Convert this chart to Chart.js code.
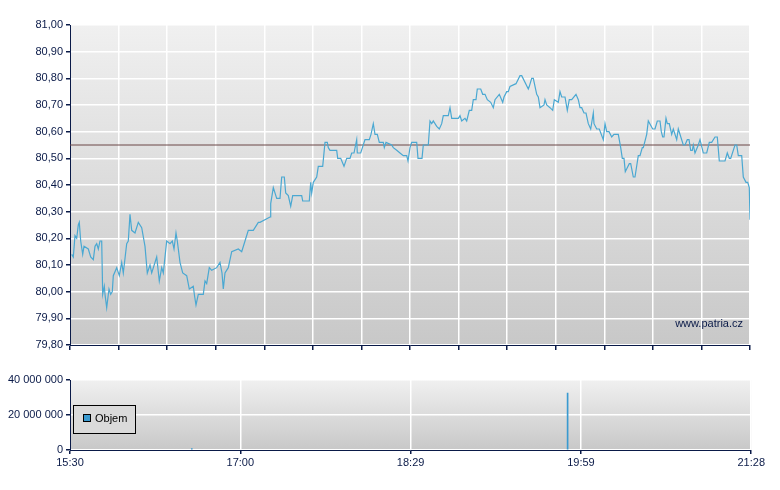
<!DOCTYPE html>
<html><head><meta charset="utf-8">
<script src="https://cdn.jsdelivr.net/npm/chart.js@4/dist/chart.umd.min.js"></script>
<style>
body{margin:0;background:#fff;width:780px;height:490px;overflow:hidden}
</style></head><body>
<div style="position:absolute;left:0;top:0;width:760px;height:360px"><canvas id="c1"></canvas></div>
<div style="position:absolute;left:0;top:370px;width:767px;height:110px"><canvas id="c2"></canvas></div>
<script>
const xs = [71.7,73.3,75,76.7,78.3,79.3,80.7,82.7,84,88.3,90.7,93.3,95,96.7,98.3,100,101.7,102.7,104.3,105,106.7,109,110.7,112.3,113.3,116.7,119.3,121.7,123.3,126.7,128.3,130,131.7,135,138.3,141.7,145,147.3,150,151.7,156.7,159.3,161.7,163.3,166.7,170,172.3,174,176,177.3,180,182.7,186.7,189.3,193.3,194.7,196,198.3,203.3,205,206.7,209.3,211.7,216.7,220,222,223.3,225,228.3,231.7,238.3,241.7,245,248.3,253.3,258.3,260,
270,270.7,273.3,276.7,280,281.7,284.3,285.7,288.3,290.7,292.7,295,301.7,302.7,309.3,310.7,311.7,313.3,316.7,318.3,322.7,325,327.3,328.3,330,336.7,337.7,340.7,344,346.7,350,351.7,354,356.7,357.3,360.7,365,369.3,371,373.3,375,377.3,379.3,383.3,384.3,386,391.7,393.3,396.7,400,403.3,406.7,408,410,411.7,416.7,418,422,423.3,428.3,430,431.7,433.3,436.7,439.3,441.7,443.3,448.3,450,451.7,458.3,460,461.7,465,466.7,469.3,471.7,473.3,476,477.3,480.7,482.7,485,487.3,490.7,493.3,495,499.3,
502.7,504,506.7,508.3,510,516,516.7,520,521.7,528.3,529.3,531.7,533.3,536.7,538.3,540,544,545,546.7,550,552.7,554.3,558.3,560,561.7,565,567.3,569.3,571.7,576,578.3,580,581.7,584,586,588.3,590.7,593.3,594,596.7,599.3,603.3,605,606.7,609,611.7,614,618.3,620.7,622.3,624,625.3,629.3,630.7,633.3,635,638.3,640,642.3,643.3,646.7,648.3,652.7,655,657.3,660,661.3,662.7,664,666,667.3,669.3,671.7,673.3,676.7,678.3,683.3,685,687.3,689,690.7,692.3,693.3,695,698.3,700,703.3,706.7,709.3,711.7,715,717.3,719.3,725,727.3,729.3,730.7,735,736.7,738.3,741.7,743.3,746,747.7,749.3,750];
const prices = [80.14,80.13,80.21,80.20,80.25,80.26,80.19,80.14,80.17,80.16,80.13,80.12,80.17,80.18,80.16,80.19,80.19,79.99,80.02,79.99,79.94,80.01,79.99,80.00,80.06,80.09,80.06,80.11,80.07,80.18,80.19,80.29,80.23,80.22,80.26,80.24,80.17,80.07,80.10,80.07,80.13,80.04,80.09,80.07,80.19,80.18,80.19,80.16,80.22,80.19,80.11,80.07,80.06,80.01,80.02,79.98,79.95,79.99,79.99,80.04,80.03,80.09,80.08,80.09,80.11,80.07,80.01,80.07,80.09,80.15,80.16,80.15,80.19,80.23,80.23,80.26,80.26,
80.28,80.33,80.39,80.35,80.35,80.43,80.43,80.37,80.36,80.32,80.36,80.36,80.36,80.34,80.34,80.41,80.37,80.41,80.43,80.47,80.47,80.56,80.56,80.54,80.53,80.53,80.50,80.50,80.47,80.50,80.50,80.52,80.52,80.57,80.52,80.52,80.57,80.57,80.59,80.63,80.59,80.59,80.56,80.56,80.54,80.56,80.55,80.54,80.53,80.52,80.51,80.51,80.49,80.54,80.56,80.56,80.50,80.50,80.55,80.55,80.64,80.63,80.64,80.62,80.61,80.63,80.66,80.66,80.69,80.65,80.65,80.66,80.64,80.65,80.64,80.68,80.68,80.72,80.72,80.76,80.76,80.74,80.74,80.72,80.71,80.69,80.72,80.74,
80.71,80.73,80.75,80.75,80.77,80.78,80.78,80.81,80.81,80.76,80.77,80.80,80.80,80.74,80.73,80.69,80.70,80.72,80.70,80.69,80.68,80.72,80.71,80.75,80.73,80.73,80.68,80.72,80.72,80.74,80.72,80.69,80.69,80.67,80.67,80.63,80.61,80.67,80.63,80.61,80.61,80.57,80.63,80.60,80.60,80.58,80.59,80.59,80.54,80.50,80.50,80.45,80.48,80.48,80.43,80.43,80.51,80.51,80.54,80.54,80.59,80.64,80.61,80.61,80.64,80.64,80.60,80.58,80.58,80.65,80.63,80.63,80.59,80.61,80.57,80.61,80.55,80.55,80.57,80.57,80.53,80.53,80.55,80.52,80.55,80.57,80.52,80.52,80.56,80.56,80.58,80.58,80.49,80.49,80.52,80.50,80.50,80.55,80.55,80.51,80.51,80.43,80.41,80.41,80.39,80.27,80.26,80.32,80.32];
const refPrice = 80.55;
const volMinutes = [64, 261.5];
const volumes = [800000, 32500000];
const timeLabels = ['15:30','17:00','18:29','19:59','21:28'];
const timeLabelMinutes = [0, 89.5, 179, 268.5, 358];
const yTicks = [79.8,79.9,80.0,80.1,80.2,80.3,80.4,80.5,80.6,80.7,80.8,80.9,81.0];
const volTicks = [0, 20000000, 40000000];

const toMin = x => (x-70)/680*358;
const priceData = xs.map((x,i)=>({x:toMin(x), y:prices[i]}));
const AX = '#0a1a48';
const FONT = {family:'Liberation Sans, Arial', size:11};

const bgPlugin = {id:'bg', beforeDraw(c){
  const a=c.chartArea, ctx=c.ctx;
  const g=ctx.createLinearGradient(0,a.top,0,a.bottom);
  g.addColorStop(0,'#f0f0f0'); g.addColorStop(1,'#c8c8c8');
  ctx.save(); ctx.fillStyle=g; ctx.fillRect(a.left,a.top,a.right-a.left,a.bottom-a.top); ctx.restore();
}};
const wmPlugin = {id:'wm', afterDraw(c){
  const ctx=c.ctx; ctx.save(); ctx.font='11px Liberation Sans, Arial'; ctx.fillStyle='#0a1a48';
  ctx.textAlign='right'; ctx.fillText('www.patria.cz', c.chartArea.right-7, c.chartArea.bottom-18); ctx.restore();
}};
const legPlugin = {id:'leg', afterDraw(c){
  const ctx=c.ctx; ctx.save();
  ctx.fillStyle='#dadada'; ctx.fillRect(73.5,35.5,62,28);
  ctx.strokeStyle='#000'; ctx.lineWidth=1; ctx.strokeRect(73.5,35.5,62,28);
  ctx.fillStyle='#3a9ad0'; ctx.fillRect(83.5,44.5,7,7); ctx.strokeRect(83.5,44.5,7,7);
  ctx.fillStyle='#000'; ctx.font='11px Liberation Sans, Arial'; ctx.textBaseline='middle';
  ctx.fillText('Objem',95,49); ctx.restore();
}};

const stepMin = 358/14;
new Chart(document.getElementById('c1'), {
  type:'line',
  data:{datasets:[
    {data:priceData, borderColor:'#4aa8d2', borderWidth:1.2, pointRadius:0, tension:0},
    {data:[{x:0,y:refPrice},{x:358,y:refPrice}], borderColor:'#6a4646', borderWidth:1, pointRadius:0}
  ]},
  options:{animation:false, responsive:true, maintainAspectRatio:false,
    layout:{padding:{top:25,right:10,left:0,bottom:0}},
    plugins:{legend:{display:false}, tooltip:{enabled:false}},
    scales:{
      x:{type:'linear', min:0, max:358,
        afterBuildTicks(s){ s.ticks=[]; for(let i=0;i<=14;i++) s.ticks.push({value:i*stepMin}); },
        afterFit(s){ s.height=15; },
        ticks:{display:false},
        grid:{color:'#ffffff', lineWidth:1.5, tickColor:AX, tickLength:5, drawTicks:true},
        border:{color:AX, width:1}},
      y:{min:79.8, max:81.0,
        afterBuildTicks(s){ s.ticks=yTicks.map(v=>({value:v})); },
        afterFit(s){ s.width=70; },
        ticks:{color:AX, font:FONT, padding:3, callback:v=>v.toFixed(2).replace('.',',')},
        grid:{color:'#ffffff', lineWidth:1.5, tickColor:AX, tickLength:4},
        border:{color:AX, width:1}}
    }},
  plugins:[bgPlugin, wmPlugin]
});

new Chart(document.getElementById('c2'), {
  type:'bar',
  data:{datasets:[{data:volMinutes.map((m,i)=>({x:m,y:volumes[i]})), backgroundColor:'#3a9ad0', barThickness:1}]},
  options:{animation:false, responsive:true, maintainAspectRatio:false,
    layout:{padding:{top:10,right:10,left:0,bottom:0}},
    plugins:{legend:{display:false}, tooltip:{enabled:false}},
    scales:{
      x:{type:'linear', min:0, max:358, offset:false,
        afterBuildTicks(s){ s.ticks=timeLabelMinutes.map(v=>({value:v})); },
        afterFit(s){ s.height=30; },
        ticks:{color:AX, font:FONT, maxRotation:0, autoSkip:false, padding:2,
          callback:(v,i)=>timeLabels[i]},
        grid:{color:'#ffffff', lineWidth:1.5, tickColor:AX, tickLength:4, offset:false},
        border:{color:AX, width:1}},
      y:{min:0, max:40000000,
        afterBuildTicks(s){ s.ticks=volTicks.map(v=>({value:v})); },
        afterFit(s){ s.width=70; },
        ticks:{color:AX, font:FONT, padding:3, callback:v=>String(v).replace(/\B(?=(\d{3})+(?!\d))/g,' ')},
        grid:{color:'#ffffff', lineWidth:1.5, tickColor:AX, tickLength:4},
        border:{color:AX, width:1}}
    }},
  plugins:[bgPlugin, legPlugin]
});
</script></body></html>
